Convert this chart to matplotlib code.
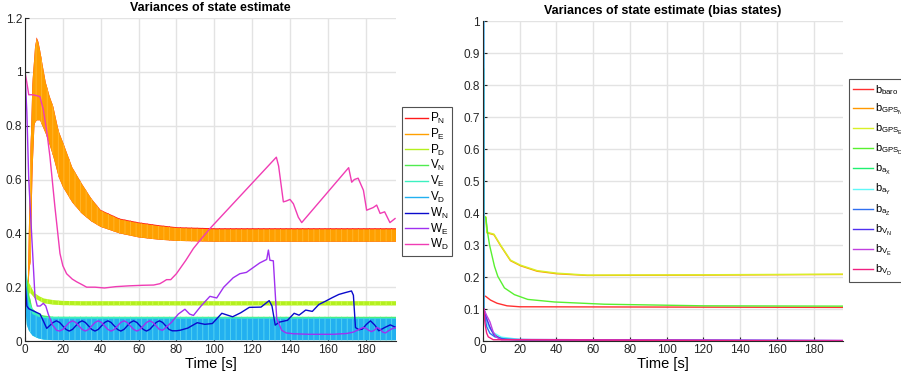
import matplotlib
matplotlib.use("Agg")
import matplotlib.pyplot as plt

plt.rcParams["font.family"] = ["Liberation Sans", "DejaVu Sans"]
plt.rcParams["mathtext.fontset"] = "custom"
plt.rcParams["mathtext.rm"] = "Liberation Sans"
plt.rcParams["mathtext.it"] = "Liberation Sans"
plt.rcParams["hatch.linewidth"] = 0.6

# ---- left panel: oscillating bands (lower / upper envelopes) ----
t_p = [1.5, 2.3, 3, 3.9, 4.1, 5, 5.3, 6.2, 7.1, 8, 9.2, 11, 13, 15, 17.8, 20, 25,
       30, 35, 40, 50, 60, 70, 80, 100, 196]
pe_hi = [0.2, 0.5, 0.72, 0.95, 0.976, 1.06, 1.09, 1.125, 1.11, 1.08, 1.03, 0.96, 0.91,
         0.87, 0.78, 0.74, 0.645, 0.585, 0.53, 0.485, 0.452, 0.438, 0.428, 0.42, 0.415, 0.415]
pn_hi = [0.2, 0.5, 0.72, 0.95, 0.976, 1.06, 1.09, 1.128, 1.112, 1.08, 1.03, 0.96, 0.91,
         0.87, 0.78, 0.74, 0.645, 0.585, 0.53, 0.487, 0.455, 0.441, 0.431, 0.423, 0.419, 0.419]
p_lo = [0.15, 0.26, 0.3, 0.6, 0.65, 0.8, 0.81, 0.82, 0.82, 0.82, 0.8, 0.77, 0.73,
        0.685, 0.61, 0.573, 0.515, 0.474, 0.445, 0.424, 0.4, 0.385, 0.377, 0.372, 0.369, 0.369]

t_pd = [0.5, 1, 2.6, 5, 7.9, 10, 15, 20, 30, 196]
pd_hi = [0.25, 0.23, 0.21, 0.178, 0.165, 0.158, 0.152, 0.149, 0.148, 0.148]
pd_lo = [0.12, 0.15, 0.18, 0.16, 0.148, 0.14, 0.135, 0.133, 0.132, 0.132]

t_vn = [0.2, 0.5, 1, 2, 4, 7, 10, 15, 196]
vn_hi = [1.16, 0.5, 0.25, 0.18, 0.12, 0.1, 0.095, 0.09, 0.09]
vn_lo = [1.16, 0.4, 0.15, 0.1, 0.06, 0.03, 0.01, 0.005, 0.005]

t_ve = [0.2, 0.5, 1, 2, 4, 7, 10, 196]
ve_hi = [0.3, 0.26, 0.2, 0.15, 0.12, 0.1, 0.09, 0.087]
ve_lo = [0.3, 0.1, 0.06, 0.04, 0.02, 0.01, 0.005, 0.003]

t_vd = [0.3, 0.5, 1, 2, 4, 7, 10, 15, 196]
vd_hi = [0.67, 0.3, 0.2, 0.13, 0.1, 0.09, 0.085, 0.083, 0.083]
vd_lo = [0.67, 0.1, 0.06, 0.04, 0.02, 0.01, 0.005, 0.003, 0.003]

# ---- left panel: attitude variances (lines) ----
t_wn = [0.3, 1, 2, 5, 8, 10, 11.5, 13.2, 14.9, 16.6, 18.3, 20, 21.7, 23.4, 25.1, 26.8,
        28.5, 30.2, 31.9, 33.6, 35.3, 37, 38.7, 40.4, 42.1, 43.8, 45.5, 47.2, 48.9, 50.6,
        52.3, 54, 55.7, 57.4, 59.1, 60.8, 62.5, 64.2, 65.9, 67.6, 69.3, 71, 72.7, 74.4,
        76.1, 77.8, 80, 82, 86, 91, 95, 99, 104, 109.7, 114, 118.5, 124.7, 129, 130.5,
        132.2, 134.3, 138.7, 142.2, 144.8, 148.3, 151.8, 155.3, 158.8, 162.3, 165.8,
        169.3, 172.5, 173.5, 174.6, 176.4, 178.2, 180.4, 182.5, 184.7, 186.9, 190, 193, 196]
wn = [0.2, 0.13, 0.12, 0.11, 0.1, 0.07, 0.047, 0.058, 0.069, 0.075, 0.069, 0.056, 0.043,
      0.037, 0.043, 0.056, 0.069, 0.075, 0.069, 0.056, 0.043, 0.037, 0.043, 0.056, 0.069,
      0.075, 0.069, 0.056, 0.043, 0.037, 0.043, 0.056, 0.069, 0.075, 0.069, 0.056, 0.043,
      0.037, 0.043, 0.056, 0.069, 0.075, 0.069, 0.056, 0.043, 0.038, 0.038, 0.04, 0.048,
      0.068, 0.062, 0.065, 0.103, 0.09, 0.105, 0.125, 0.126, 0.15, 0.13, 0.059, 0.07,
      0.077, 0.103, 0.096, 0.115, 0.11, 0.136, 0.148, 0.161, 0.173, 0.18, 0.186, 0.17,
      0.05, 0.042, 0.044, 0.062, 0.075, 0.06, 0.038, 0.05, 0.06, 0.05]

t_we = [0, 1, 2, 3.5, 5.3, 6.5, 8, 9.7, 11, 12.3, 14.5, 16.7, 18.3, 20, 21.7, 23.4, 25.1,
        26.8, 28.5, 30.2, 31.9, 33.6, 35.3, 37, 38.7, 40.4, 42.1, 43.8, 45.5, 47.2, 48.9,
        50.6, 52.3, 54, 55.7, 57.4, 59.1, 60.8, 62.5, 64.2, 65.9, 67.6, 69.3, 71, 72.7,
        74.4, 77.5, 81, 84.5, 87, 89, 93, 97.7, 101.3, 105, 110, 113.5, 117, 120, 124,
        127.7, 128.6, 129.4, 131.2, 133, 135.6, 138, 141.8, 150, 163, 170, 173.5, 177,
        178.5, 180, 181.5, 183, 184.5, 186, 187.5, 189, 190.5, 192, 194, 196]
we = [1.0, 0.85, 0.6, 0.4, 0.164, 0.13, 0.13, 0.14, 0.13, 0.1, 0.06, 0.04, 0.037, 0.043,
      0.056, 0.069, 0.075, 0.069, 0.056, 0.043, 0.037, 0.043, 0.056, 0.069, 0.075, 0.069,
      0.056, 0.043, 0.037, 0.043, 0.056, 0.069, 0.075, 0.069, 0.056, 0.043, 0.037, 0.043,
      0.056, 0.069, 0.075, 0.069, 0.056, 0.043, 0.04, 0.05, 0.07, 0.1, 0.118, 0.1, 0.095,
      0.13, 0.166, 0.16, 0.2, 0.235, 0.25, 0.255, 0.27, 0.29, 0.303, 0.338, 0.3, 0.298,
      0.083, 0.04, 0.03, 0.027, 0.025, 0.025, 0.028, 0.033, 0.045, 0.05, 0.048, 0.04,
      0.035, 0.04, 0.05, 0.045, 0.033, 0.03, 0.038, 0.046, 0.05]

t_wd = [0, 1, 2, 4, 6, 7.9, 9.7, 11.5, 13.2, 15.8, 18.5, 20, 22, 25, 27.3, 30, 32.6, 37,
        42, 48, 55, 62, 68, 71.3, 73, 74.8, 77, 80, 85, 89, 92, 98, 132.8, 134, 136.5,
        138, 140, 141.8, 144.4, 146.2, 171, 172.6, 174, 176, 178.8, 180.5, 184, 185.8,
        187.6, 190, 192.8, 195.5]
wd = [1.0, 0.96, 0.915, 0.915, 0.912, 0.908, 0.86, 0.78, 0.685, 0.5, 0.325, 0.28, 0.25,
      0.23, 0.22, 0.21, 0.2, 0.2, 0.197, 0.202, 0.205, 0.207, 0.208, 0.213, 0.22, 0.228,
      0.228, 0.25, 0.3, 0.344, 0.37, 0.42, 0.683, 0.65, 0.517, 0.52, 0.526, 0.51, 0.46,
      0.44, 0.644, 0.59, 0.6, 0.605, 0.56, 0.486, 0.496, 0.505, 0.474, 0.48, 0.44, 0.455]

left_labels = [r"P$_\mathrm{N}$", r"P$_\mathrm{E}$", r"P$_\mathrm{D}$",
               r"V$_\mathrm{N}$", r"V$_\mathrm{E}$", r"V$_\mathrm{D}$",
               r"W$_\mathrm{N}$", r"W$_\mathrm{E}$", r"W$_\mathrm{D}$"]
left_colors = ["#ff1a1a", "#ffa000", "#b4f01e", "#50eb50", "#3cf0c0", "#22b0f0",
               "#0a0acc", "#a030f0", "#f03cb4"]
band_stripes = ["#ff1a1a", "#ffb830", "#d0ff50", "#50eb50", "#3cf0c0", "#5ad8f0"]

# ---- right panel: bias state variances ----
t_baro = [0.3, 0.4, 1.4, 4.1, 7.7, 13.1, 20, 196]
b_baro = [0.68, 0.14, 0.14, 0.128, 0.118, 0.11, 0.107, 0.105]
t_gpsn = [0.5, 0.6, 1.6, 2.2, 6, 9.6, 15, 20.5, 29.5, 40.4, 56.7, 120, 196]
b_gpsn = [0.52, 0.388, 0.386, 0.338, 0.332, 0.298, 0.251, 0.235, 0.218, 0.21, 0.205, 0.206, 0.208]
t_gpse = [0.5, 0.6, 1.6, 2.2, 6, 9.6, 15, 20.5, 29.5, 40.4, 56.7, 120, 196]
b_gpse = [0.52, 0.39, 0.388, 0.34, 0.334, 0.3, 0.253, 0.237, 0.22, 0.212, 0.206, 0.207, 0.209]
t_gpsd = [0.4, 0.6, 1.6, 2.5, 3.6, 4.8, 6.3, 8.1, 11.7, 17.1, 24.4, 38.9, 66, 120, 196]
b_gpsd = [0.85, 0.39, 0.385, 0.34, 0.3, 0.27, 0.233, 0.202, 0.166, 0.145, 0.13, 0.122,
          0.115, 0.11, 0.109]
t_ax = [0.3, 0.5, 1, 3, 6, 10, 20, 196]
b_ax = [0.9, 0.1, 0.09, 0.05, 0.02, 0.008, 0.002, 0.001]
t_ay = [0.5, 0.6, 1, 3, 6, 10, 20, 40, 196]
b_ay = [1.0, 0.1, 0.09, 0.045, 0.025, 0.012, 0.005, 0.002, 0.001]
t_az = [0.4, 0.5, 1, 2, 3.8, 6.5, 12, 20, 196]
b_az = [1.0, 0.1, 0.08, 0.045, 0.024, 0.013, 0.006, 0.003, 0.001]
t_vn_b = [0.5, 1, 2, 4, 6, 10, 196]
b_vn = [0.1, 0.09, 0.07, 0.04, 0.02, 0.005, 0.001]
t_ve_b = [0.5, 1.1, 2, 3.8, 5.6, 7.4, 10, 196]
b_ve = [0.1, 0.092, 0.08, 0.06, 0.028, 0.012, 0.004, 0.002]
t_vd_b = [0.5, 1.1, 2, 2.9, 5.6, 196]
b_vd = [0.1, 0.055, 0.025, 0.013, 0.004, 0.0]

right_labels = [r"b$_\mathrm{baro}$", r"b$_{\mathrm{GPS}_\mathrm{N}}$",
                r"b$_{\mathrm{GPS}_\mathrm{E}}$", r"b$_{\mathrm{GPS}_\mathrm{D}}$",
                r"b$_{\mathrm{a}_\mathrm{X}}$", r"b$_{\mathrm{a}_\mathrm{Y}}$",
                r"b$_{\mathrm{a}_\mathrm{Z}}$", r"b$_{\mathrm{V}_\mathrm{N}}$",
                r"b$_{\mathrm{V}_\mathrm{E}}$", r"b$_{\mathrm{V}_\mathrm{D}}$"]
right_colors = ["#ff3030", "#ff9900", "#d8f028", "#58f030", "#20f070", "#60f8f8",
                "#3070f0", "#5030f0", "#c040e0", "#f02080"]

x_ticks = list(range(0, 181, 20))


def style_axes(ax, yticks, ylim, title):
    ax.set_xlim(0, 196)
    ax.set_ylim(*ylim)
    ax.set_xticks(x_ticks)
    ax.set_yticks(yticks)
    ax.set_yticklabels([f"{v:g}" for v in yticks])
    ax.grid(True, color="#e3e3e3", linewidth=1.0)
    ax.set_axisbelow(True)
    for side in ("top", "right"):
        ax.spines[side].set_visible(False)
    for side in ("left", "bottom"):
        ax.spines[side].set_color("#262626")
        ax.spines[side].set_linewidth(0.8)
    ax.tick_params(direction="in", length=3, labelsize=8.5, colors="#262626", pad=2)
    ax.set_xlabel("Time [s]", fontsize=10.5, labelpad=1)
    ax.set_title(title, fontsize=9, fontweight="bold", pad=5)


fig = plt.figure(figsize=(9.01, 3.74), dpi=100)
ax1 = fig.add_axes([0.0277, 0.0882, 0.4118, 0.8636])
ax2 = fig.add_axes([0.536, 0.0882, 0.3996, 0.8556])

bands = [(t_p, p_lo, pn_hi), (t_p, p_lo, pe_hi), (t_pd, pd_lo, pd_hi),
         (t_vn, vn_lo, vn_hi), (t_ve, ve_lo, ve_hi), (t_vd, vd_lo, vd_hi)]
handles = []
for (t, lo, hi), col, stripe, lab in zip(bands, left_colors[:6], band_stripes,
                                         left_labels[:6]):
    ax1.fill_between(t, lo, hi, facecolor=col, edgecolor=stripe, hatch="|||", linewidth=0)
    handles.append(plt.Line2D([], [], color=col, lw=1, label=lab))
for (t, v), col, lab in zip([(t_wn, wn), (t_we, we), (t_wd, wd)], left_colors[6:],
                            left_labels[6:]):
    h, = ax1.plot(t, v, color=col, lw=1.0, label=lab)
    handles.append(h)
style_axes(ax1, [0, 0.2, 0.4, 0.6, 0.8, 1, 1.2], (0, 1.2), "Variances of state estimate")
fig.legend(handles=handles, loc="upper left", bbox_to_anchor=(0.446, 0.713),
           fontsize=8.5, frameon=True, fancybox=False, edgecolor="#262626",
           handlelength=1.9, handletextpad=0.2, labelspacing=0.06, borderpad=0.3,
           borderaxespad=0).get_frame().set_linewidth(0.8)

right_series = [(t_baro, b_baro), (t_gpsn, b_gpsn), (t_gpse, b_gpse), (t_gpsd, b_gpsd),
                (t_ax, b_ax), (t_ay, b_ay), (t_az, b_az), (t_vn_b, b_vn),
                (t_ve_b, b_ve), (t_vd_b, b_vd)]
for (t, v), col, lab in zip(right_series, right_colors, right_labels):
    ax2.plot(t, v, color=col, lw=1.0, label=lab)
style_axes(ax2, [0, 0.1, 0.2, 0.3, 0.4, 0.5, 0.6, 0.7, 0.8, 0.9, 1], (0, 1),
           "Variances of state estimate (bias states)")
fig.legend(*ax2.get_legend_handles_labels(), loc="upper left", bbox_to_anchor=(0.942, 0.789),
           fontsize=8, frameon=True, fancybox=False, edgecolor="#262626",
           handlelength=1.8, handletextpad=0.2, labelspacing=0.45, borderpad=0.4,
           borderaxespad=0).get_frame().set_linewidth(0.8)

fig.savefig("out.png", dpi=100)
